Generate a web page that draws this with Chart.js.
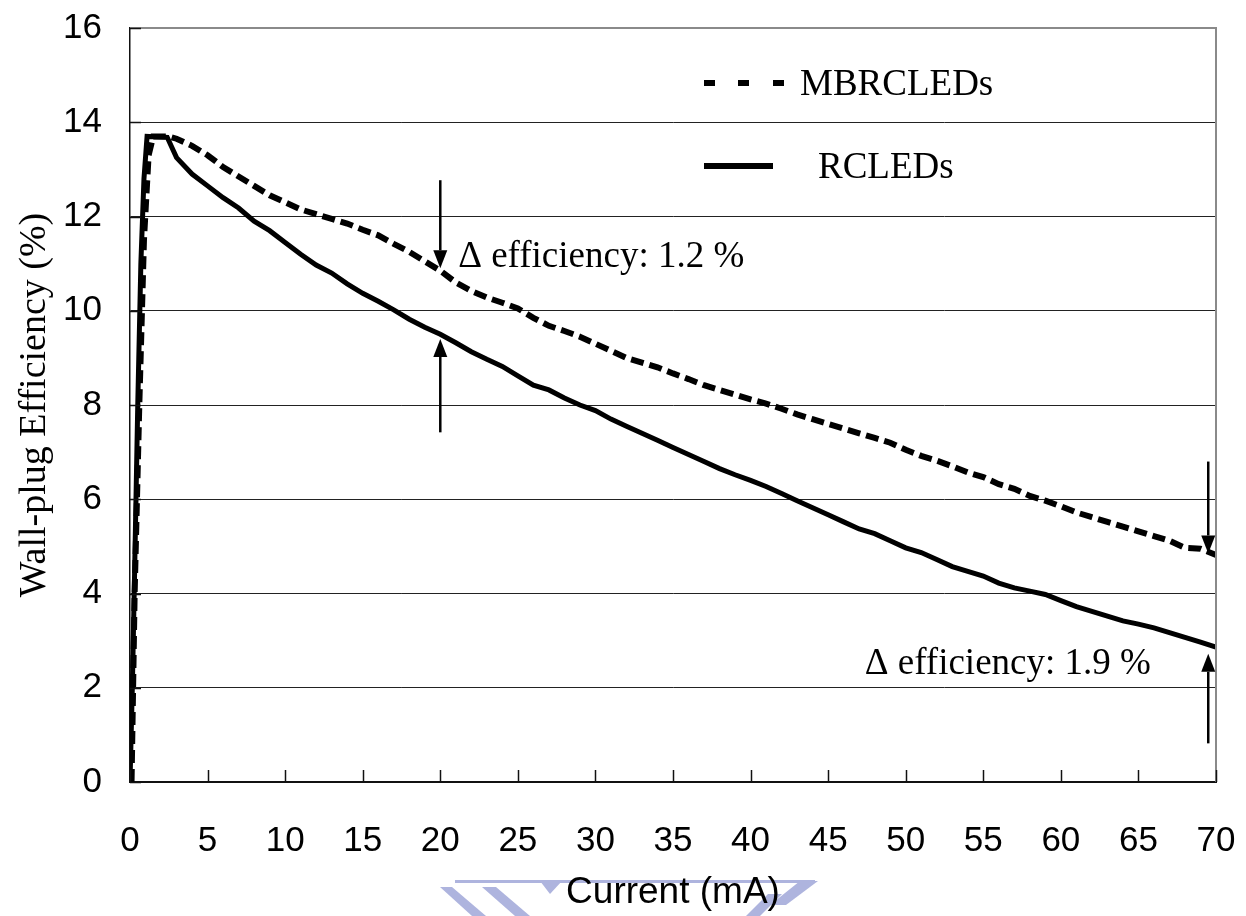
<!DOCTYPE html>
<html>
<head>
<meta charset="utf-8">
<script src="https://cdn.jsdelivr.net/npm/chart.js@4.4.0/dist/chart.umd.min.js"></script>
<style>
  html, body { margin: 0; padding: 0; background: #fff; }
  #wrap { width: 1246px; height: 916px; position: relative; }
</style>
</head>
<body>
<div id="wrap"><canvas id="c"></canvas></div>
<script>
// Current (mA) and wall-plug efficiency (%) for each device type
const mbrCurrent = [0.1, 0.3, 0.6, 0.9, 1.2, 1.5, 2.5, 3, 4, 5, 6, 7, 8, 9, 10, 11, 12, 13, 14, 15, 16, 17, 18, 19, 20,
  21, 22, 23, 24, 25, 26, 27, 28, 29, 30, 31, 32, 33, 34, 35, 36, 37, 38, 39, 40, 41, 42, 43, 44, 45,
  46, 47, 48, 49, 50, 51, 52, 53, 54, 55, 56, 57, 58, 59, 60, 61, 62, 63, 64, 65, 66, 67, 68, 69, 70];
const mbrEfficiency = [0, 4, 8, 11.5, 13.3, 13.7, 13.7, 13.65, 13.5, 13.3, 13.05, 12.85, 12.65, 12.45, 12.3, 12.15, 12.05, 11.95, 11.85, 11.72, 11.6, 11.42, 11.25, 11.05, 10.85,
  10.6, 10.42, 10.28, 10.17, 10.05, 9.85, 9.68, 9.57, 9.45, 9.3, 9.15, 9.0, 8.9, 8.8, 8.67, 8.55, 8.42, 8.32, 8.22, 8.12, 8.03, 7.92, 7.8, 7.7, 7.6,
  7.5, 7.4, 7.3, 7.2, 7.05, 6.92, 6.82, 6.7, 6.57, 6.47, 6.32, 6.22, 6.07, 5.97, 5.85, 5.72, 5.62, 5.52, 5.42, 5.32, 5.22, 5.12, 4.97, 4.95, 4.82];

const rcCurrent = [0, 0.15, 0.3, 0.5, 0.7, 0.9, 1.1, 2.4, 3, 4, 5, 6, 7, 8, 9, 10, 11, 12, 13, 14, 15, 16, 17, 18, 19, 20,
  21, 22, 23, 24, 25, 26, 27, 28, 29, 30, 31, 32, 33, 34, 35, 36, 37, 38, 39, 40, 41, 42, 43, 44, 45,
  46, 47, 48, 49, 50, 51, 52, 53, 54, 55, 56, 57, 58, 59, 60, 61, 62, 63, 64, 65, 66, 67, 68, 69, 70];
const rcEfficiency = [0, 2, 4.5, 8, 11, 12.8, 13.7, 13.68, 13.25, 12.9, 12.65, 12.4, 12.18, 11.9, 11.7, 11.45, 11.2, 10.97, 10.8, 10.57, 10.37, 10.2, 10.02, 9.82, 9.65, 9.5,
  9.32, 9.13, 8.97, 8.82, 8.62, 8.42, 8.32, 8.15, 8.0, 7.88, 7.7, 7.55, 7.4, 7.25, 7.1, 6.95, 6.8, 6.65, 6.52, 6.4, 6.27, 6.12, 5.97, 5.82, 5.67,
  5.52, 5.37, 5.27, 5.12, 4.97, 4.87, 4.72, 4.57, 4.47, 4.37, 4.22, 4.12, 4.05, 3.98, 3.85, 3.72, 3.62, 3.52, 3.42, 3.35, 3.27, 3.17, 3.07, 2.97, 2.86];

const xTicks = [0, 5, 10, 15, 20, 25, 30, 35, 40, 45, 50, 55, 60, 65, 70];
const yTicks = [0, 2, 4, 6, 8, 10, 12, 14, 16];

const seriesNames = ['MBRCLEDs', 'RCLEDs'];

// Efficiency-gap callouts: arrows given in data units (x, from, to)
const gapArrows = [
  { x: 20, from: 12.77, to: 10.9 },
  { x: 20, from: 7.42, to: 9.4 },
  { x: 69.5, from: 6.8, to: 4.85 },
  { x: 69.5, from: 0.82, to: 2.72 }
];
const gapLabels = [
  { text: '\u0394 efficiency: 1.2 %', x: 21.15, y: 10.93, align: 'left' },
  { text: '\u0394 efficiency: 1.9 %', x: 65.8, y: 2.3, align: 'right' }
];

const SERIF = '"Liberation Serif", "Times New Roman", serif';
const SANS = '"Liberation Sans", Arial, sans-serif';

function toPoints(xs, ys) { return xs.map((x, i) => ({ x: x, y: ys[i] })); }

// faint logo strip behind the x-axis title
const watermark = {
  id: 'watermark',
  beforeDraw(chart) {
    const ctx = chart.ctx;
    ctx.save();
    ctx.fillStyle = '#aeb4de';
    const polys = [
      [[455, 880], [815, 880], [815, 883], [455, 883]],
      [[440, 887], [452, 887], [486, 916], [472, 916]],
      [[482, 887], [496, 887], [530, 916], [515, 916]],
      [[540, 881], [562, 881], [550, 894]],
      [[800, 881], [818, 881], [786, 905], [770, 905]],
      [[768, 894], [782, 894], [760, 916], [746, 916]]
    ];
    polys.forEach(p => {
      ctx.beginPath();
      ctx.moveTo(p[0][0], p[0][1]);
      for (let i = 1; i < p.length; i++) ctx.lineTo(p[i][0], p[i][1]);
      ctx.closePath();
      ctx.fill();
    });
    ctx.restore();
  }
};

// frame, inside tick marks, legend and callouts
const decorations = {
  id: 'decorations',
  afterDatasetsDraw(chart) {
    const ctx = chart.ctx;
    const a = chart.chartArea;
    const xs = chart.scales.x, ys = chart.scales.y;
    ctx.save();

    // gray top / right frame
    ctx.strokeStyle = '#8a8a8a';
    ctx.lineWidth = 2;
    ctx.beginPath();
    ctx.moveTo(a.left, a.top);
    ctx.lineTo(a.right, a.top);
    ctx.lineTo(a.right, a.bottom);
    ctx.stroke();

    // tick marks pointing into the plot
    ctx.strokeStyle = '#111';
    ctx.lineWidth = 1.5;
    xTicks.forEach(v => {
      const px = Math.round(xs.getPixelForValue(v)) + 0.5;
      ctx.beginPath();
      ctx.moveTo(px, a.bottom);
      ctx.lineTo(px, a.bottom - 12);
      ctx.stroke();
    });
    yTicks.forEach(v => {
      const py = Math.round(ys.getPixelForValue(v)) + 0.5;
      ctx.beginPath();
      ctx.moveTo(a.left, py);
      ctx.lineTo(a.left + 11, py);
      ctx.stroke();
    });

    // legend
    const lx = a.left + 574;
    ctx.fillStyle = '#000';
    [0, 34, 69].forEach(o => ctx.fillRect(lx + o, a.top + 52, 11, 6));
    ctx.fillRect(lx, a.top + 135, 69, 6);
    ctx.font = '37px ' + SERIF;
    ctx.textAlign = 'left';
    ctx.textBaseline = 'alphabetic';
    ctx.fillText(seriesNames[0], lx + 96, a.top + 67);
    ctx.fillText(seriesNames[1], lx + 114, a.top + 150);

    // arrows
    ctx.strokeStyle = '#000';
    ctx.lineWidth = 2.5;
    gapArrows.forEach(ar => {
      const px = xs.getPixelForValue(ar.x);
      const y0 = ys.getPixelForValue(ar.from);
      const y1 = ys.getPixelForValue(ar.to);
      const dir = y1 > y0 ? 1 : -1;
      const head = 18;
      ctx.beginPath();
      ctx.moveTo(px, y0);
      ctx.lineTo(px, y1 - dir * head);
      ctx.stroke();
      ctx.beginPath();
      ctx.moveTo(px, y1);
      ctx.lineTo(px - 7, y1 - dir * head);
      ctx.lineTo(px + 7, y1 - dir * head);
      ctx.closePath();
      ctx.fill();
    });

    // callout texts
    ctx.font = '37px ' + SERIF;
    gapLabels.forEach(l => {
      ctx.textAlign = l.align;
      ctx.fillText(l.text, xs.getPixelForValue(l.x), ys.getPixelForValue(l.y));
    });
    ctx.restore();
  }
};

new Chart(document.getElementById('c'), {
  type: 'line',
  data: {
    datasets: [
      {
        label: seriesNames[0],
        data: toPoints(mbrCurrent, mbrEfficiency),
        borderColor: '#000',
        borderWidth: 6,
        borderDash: [13, 6],
        borderCapStyle: 'butt',
        pointRadius: 0,
        tension: 0,
        fill: false
      },
      {
        label: seriesNames[1],
        data: toPoints(rcCurrent, rcEfficiency),
        borderColor: '#000',
        borderWidth: 5,
        pointRadius: 0,
        tension: 0,
        fill: false
      }
    ]
  },
  options: {
    responsive: true,
    maintainAspectRatio: false,
    animation: false,
    layout: { padding: { top: 28, right: 30, left: 0, bottom: 0 } },
    plugins: {
      legend: { display: false },
      tooltip: { enabled: false }
    },
    scales: {
      x: {
        type: 'linear',
        min: 0,
        max: 70,
        afterBuildTicks: s => { s.ticks = xTicks.map(v => ({ value: v })); },
        afterFit: s => { s.height = 134; s.paddingLeft = 0; s.paddingRight = 0; },
        grid: { display: false, drawTicks: false },
        border: { display: true, color: '#111', width: 2 },
        ticks: {
          color: '#000',
          font: { family: SANS, size: 35 },
          padding: 38,
          maxRotation: 0,
          autoSkip: false
        },
        title: {
          display: true,
          text: 'Current (mA)',
          color: '#000',
          font: { family: SANS, size: 37 },
          padding: { top: 0, bottom: 1 }
        }
      },
      y: {
        min: 0,
        max: 16,
        afterBuildTicks: s => { s.ticks = yTicks.map(v => ({ value: v })); },
        afterFit: s => { s.width = 130; s.paddingTop = 0; s.paddingBottom = 0; },
        grid: { color: '#222', lineWidth: 1, drawTicks: false },
        border: { display: true, color: '#111', width: 1.5 },
        ticks: {
          color: '#000',
          font: { family: SANS, size: 35 },
          padding: 28,
          autoSkip: false
        },
        title: {
          display: true,
          text: 'Wall-plug Efficiency (%)',
          color: '#000',
          font: { family: SERIF, size: 38 },
          padding: { top: 12, bottom: 0 }
        }
      }
    }
  },
  plugins: [watermark, decorations]
});
</script>
</body>
</html>
